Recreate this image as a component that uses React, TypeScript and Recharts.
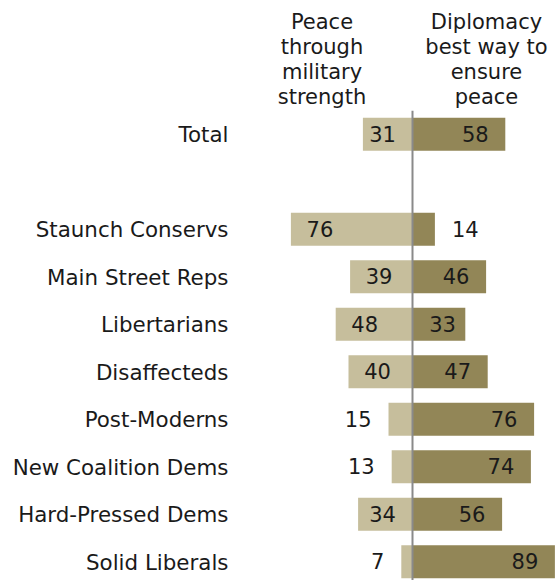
import React from "react";
import { BarChart, Bar, XAxis, YAxis, ReferenceLine, LabelList } from "recharts";

const categories = [
  "Total",
  " ",
  "Staunch Conservs",
  "Main Street Reps",
  "Libertarians",
  "Disaffecteds",
  "Post-Moderns",
  "New Coalition Dems",
  "Hard-Pressed Dems",
  "Solid Liberals",
];
const military: (number | null)[] = [31, null, 76, 39, 48, 40, 15, 13, 34, 7];
const diplomacy: (number | null)[] = [58, null, 14, 46, 33, 47, 76, 74, 56, 89];
const headerLeft = ["Peace", "through", "military", "strength"];
const headerRight = ["Diplomacy", "best way to", "ensure", "peace"];

const data = categories.map((name, i) => ({
  name,
  milNeg: military[i] == null ? null : -(military[i] as number),
  mil: military[i],
  dip: diplomacy[i],
}));

const FONT = "DejaVu Sans, Verdana, sans-serif";
const LIGHT = "#C6BE9C";
const DARK = "#928657";
const TEXT = "#1a1a1a";

const makeLabel = (side: "left" | "right") => (props: any) => {
  const vb = props.viewBox ?? {};
  const x = Number(props.x ?? vb.x);
  const w = Number(props.width ?? vb.width);
  const y = Number(props.y ?? vb.y);
  const h = Number(props.height ?? vb.height);
  const value = props.value;
  if (value == null || value === "" || isNaN(x)) return null;
  const left = Math.min(x, x + w);
  const right = Math.max(x, x + w);
  const v = Math.abs(Number(value));
  const cy = y + h / 2 + 7.5;
  let tx: number;
  let anchor: "start" | "end" | "middle";
  if (side === "left") {
    if (v >= 25) {
      tx = Math.min(left + 29, right - 17 - 13);
      anchor = "middle";
    } else {
      tx = left - 17;
      anchor = "end";
    }
  } else {
    if (v >= 25) {
      tx = Math.max(right - 30, left + 17 + 13);
      anchor = "middle";
    } else {
      tx = right + 17;
      anchor = "start";
    }
  }
  return (
    <text x={tx} y={cy} textAnchor={anchor} fontSize={21} fontFamily={FONT} fill={TEXT}>
      {v}
    </text>
  );
};

const renderTick = (props: any) => {
  const { y, payload } = props;
  return (
    <text x={228.5} y={y + 7.5} textAnchor="end" fontSize={21.4} fontFamily={FONT} fill={TEXT}>
      {payload.value}
    </text>
  );
};

const headerStyle = (center: number, width: number): React.CSSProperties => ({
  position: "absolute",
  top: 10,
  left: center - width / 2,
  width,
  textAlign: "center",
  fontFamily: FONT,
  fontSize: 21,
  lineHeight: "25px",
  color: TEXT,
});

export default function App() {
  return (
    <div
      style={{
        position: "fixed",
        left: 0,
        top: 0,
        width: 559,
        height: 580,
        overflow: "hidden",
        background: "#fff",
      }}
    >
      <div style={headerStyle(322, 150)}>
        {headerLeft.map((t, i) => (
          <div key={i}>{t}</div>
        ))}
      </div>
      <div style={headerStyle(486.5, 160)}>
        {headerRight.map((t, i) => (
          <div key={i}>{t}</div>
        ))}
      </div>
      <div style={{ position: "absolute", left: 0, top: 0 }}>
        <BarChart
          layout="vertical"
          width={559}
          height={600}
          data={data}
          margin={{ top: 110.75, right: 2.5, bottom: 14.25, left: 0 }}
          stackOffset="sign"
          barSize={33}
        >
          <XAxis type="number" domain={[-100, 90]} allowDataOverflow hide />
          <YAxis
            type="category"
            dataKey="name"
            width={252.5}
            axisLine={false}
            tickLine={false}
            tick={renderTick}
            interval={0}
          />
          <Bar dataKey="milNeg" stackId="a" fill={LIGHT} isAnimationActive={false}>
            <LabelList dataKey="mil" content={makeLabel("left")} />
          </Bar>
          <Bar dataKey="dip" stackId="a" fill={DARK} isAnimationActive={false}>
            <LabelList dataKey="dip" content={makeLabel("right")} />
          </Bar>
          <ReferenceLine x={0} stroke="#8a8a8a" strokeWidth={2} ifOverflow="visible" />
        </BarChart>
      </div>
    </div>
  );
}
